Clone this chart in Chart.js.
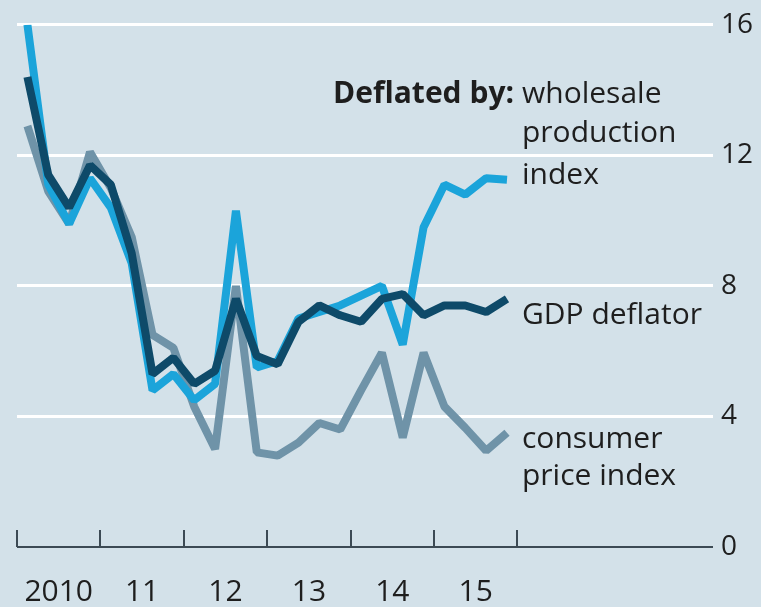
<!DOCTYPE html>
<html>
<head>
<meta charset="utf-8">
<script src="https://cdn.jsdelivr.net/npm/chart.js@4/dist/chart.umd.min.js"></script>
<style>
  html, body { margin: 0; padding: 0; background: #d3e1e9; }
  canvas { display: block; }
</style>
</head>
<body>
<canvas id="chart" width="761" height="607"></canvas>
<script>
// quarterly, 2010Q1 .. 2015Q4
const quarters = [
  '2010Q1', '2010Q2', '2010Q3', '2010Q4',
  '2011Q1', '2011Q2', '2011Q3', '2011Q4',
  '2012Q1', '2012Q2', '2012Q3', '2012Q4',
  '2013Q1', '2013Q2', '2013Q3', '2013Q4',
  '2014Q1', '2014Q2', '2014Q3', '2014Q4',
  '2015Q1', '2015Q2', '2015Q3', '2015Q4',
];
const wholesale = [16.0, 11.1, 9.9, 11.3, 10.4, 8.7, 4.8, 5.3, 4.5, 5.0, 10.3, 5.5,
                   5.7, 7.0, 7.2, 7.4, 7.7, 8.0, 6.2, 9.8, 11.1, 10.8, 11.3, 11.25];
const gdpDeflator = [14.4, 11.4, 10.4, 11.7, 11.1, 9.0, 5.3, 5.8, 5.0, 5.4, 7.6, 5.85,
                     5.6, 6.9, 7.4, 7.1, 6.9, 7.6, 7.75, 7.1, 7.4, 7.4, 7.2, 7.6];
const consumerPrices = [12.9, 10.9, 9.9, 12.1, 11.0, 9.5, 6.5, 6.1, 4.3, 3.0, 8.0, 2.9,
                        2.8, 3.2, 3.8, 3.6, 4.8, 5.95, 3.35, 5.95, 4.3, 3.65, 2.95, 3.5];
const yearTicks = [2010, 2011, 2012, 2013, 2014, 2015, 2016];
const yearLabels = ['2010', '11', '12', '13', '14', '15'];
const yTicks = [0, 4, 8, 12, 16];

const FONT = "'Open Sans', 'Noto Sans', sans-serif";
const AXIS_COL = '#3c4a54';

function qToX(q) {
  const yr = parseInt(q.slice(0, 4), 10);
  const n = parseInt(q.slice(5), 10);
  return yr + (n - 0.5) / 4;
}
const toPoints = (vals) => vals.map((v, i) => ({ x: qToX(quarters[i]), y: v }));

const yearMarks = {
  id: 'yearMarks',
  beforeDatasetsDraw(chart) {
    const { ctx } = chart;
    const xs = chart.scales.x, ys = chart.scales.y;
    const y0 = ys.getPixelForValue(0);
    ctx.save();
    ctx.strokeStyle = AXIS_COL;
    ctx.lineWidth = 2;
    yearTicks.forEach((yr) => {
      const x = Math.round(xs.getPixelForValue(yr));
      ctx.beginPath();
      ctx.moveTo(x, y0 - 17);
      ctx.lineTo(x, y0);
      ctx.stroke();
    });
    ctx.restore();
  },
};

const notes = {
  id: 'notes',
  afterDatasetsDraw(chart) {
    const { ctx } = chart;
    ctx.save();
    ctx.fillStyle = '#1e1e1e';
    ctx.textBaseline = 'alphabetic';
    ctx.textAlign = 'right';
    ctx.font = "bold 30px " + FONT;
    ctx.fillText('Deflated by:', 514, 103);
    ctx.textAlign = 'left';
    ctx.font = "30px " + FONT;
    const x = 522;
    ctx.fillText('wholesale', x, 103);
    ctx.fillText('production', x, 142);
    ctx.fillText('index', x, 184);
    ctx.fillText('GDP deflator', x, 324);
    ctx.fillText('consumer', x, 448);
    ctx.fillText('price index', x, 485);
    ctx.restore();
  },
};

const lineStyle = {
  fill: false,
  borderWidth: 8,
  pointRadius: 0,
  tension: 0,
  borderJoinStyle: 'bevel',
  borderCapStyle: 'butt',
};

new Chart(document.getElementById('chart'), {
  type: 'line',
  data: {
    datasets: [
      { ...lineStyle, label: 'wholesale production index', data: toPoints(wholesale), borderColor: '#1ba4da', order: 2 },
      { ...lineStyle, label: 'GDP deflator', data: toPoints(gdpDeflator), borderColor: '#0e4a69', order: 1 },
      { ...lineStyle, label: 'consumer price index', data: toPoints(consumerPrices), borderColor: '#6f93a8', order: 3 },
    ],
  },
  options: {
    responsive: false,
    animation: false,
    layout: { padding: { left: 17, top: 22, right: 0, bottom: 0 } },
    plugins: { legend: { display: false }, tooltip: { enabled: false } },
    scales: {
      x: {
        type: 'linear',
        min: 2010,
        max: 2018.345,
        grid: { display: false },
        border: { display: false },
        afterBuildTicks(scale) {
          scale.ticks = yearLabels.map((_, i) => ({ value: yearTicks[i] + 0.5 }));
        },
        afterFit(scale) { scale.height = 60; },
        ticks: {
          padding: 19,
          maxRotation: 0,
          autoSkip: false,
          color: '#1e1e1e',
          font: { family: FONT, size: 30 },
          callback: (v) => yearLabels[Math.floor(v) - 2010],
        },
      },
      y: {
        position: 'right',
        min: 0,
        max: 16,
        afterBuildTicks(scale) {
          scale.ticks = yTicks.map((v) => ({ value: v }));
        },
        afterFit(scale) { scale.width = 48; },
        grid: {
          drawTicks: false,
          color: (c) => (c.tick && c.tick.value === 0 ? AXIS_COL : '#ffffff'),
          lineWidth: (c) => (c.tick && c.tick.value === 0 ? 2 : 3),
        },
        border: { display: false },
        ticks: {
          padding: 8,
          color: '#1e1e1e',
          font: { family: FONT, size: 28 },
        },
      },
    },
  },
  plugins: [yearMarks, notes],
});
</script>
</body>
</html>
